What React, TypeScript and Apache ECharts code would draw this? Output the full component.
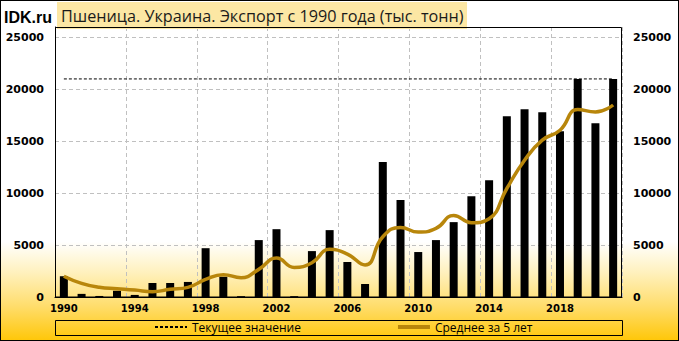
import React, { useEffect, useRef } from "react";
import * as echarts from "echarts";

const years = [
  "1990", "1991", "1992", "1993", "1994", "1995", "1996", "1997", "1998", "1999",
  "2000", "2001", "2002", "2003", "2004", "2005", "2006", "2007", "2008", "2009",
  "2010", "2011", "2012", "2013", "2014", "2015", "2016", "2017", "2018", "2019",
  "2020", "2021",
];
const exportsK = [
  2000, 300, 100, 600, 200, 1350, 1350, 1450, 4700, 1950,
  80, 5480, 6530, 80, 4420, 6440, 3370, 1250, 13000, 9330,
  4330, 5480, 7210, 9710, 11250, 17400, 18080, 17790, 15960, 21000,
  16730, 21000,
];
const avg5 = [
  2000, 1310, 930, 800, 670, 510, 740, 930, 1700, 2150,
  1860, 2660, 3750, 2850, 3300, 4590, 4130, 3080, 5800, 6700,
  6250, 6600, 7850, 7150, 7530, 10450, 13170, 15100, 16060, 18050,
  17820, 18490,
];
const currentValue = 21000;
const yMax = 26000;
const yInterval = 5000;

const titleText = "Пшеница. Украина. Экспорт с 1990 года (тыс. тонн)";
const legendCurrent = "Текущее значение";
const legendAvg = "Среднее за 5 лет";

export default function App() {
  const ref = useRef<HTMLDivElement>(null);
  useEffect(() => {
    if (!ref.current) return;
    const chart = echarts.init(ref.current, null, { renderer: "svg" });
    const tickFont = { fontFamily: "DejaVu Sans", fontWeight: "bold" as const, color: "#000" };
    const plain = (v: number) => String(v);
    chart.setOption({
      animation: false,
      grid: { left: 55, right: 57, top: 27, bottom: 44, containLabel: false },
      legend: {
        data: [
          { name: legendCurrent },
          { name: legendAvg, lineStyle: { width: 4 } },
        ],
        left: 154,
        top: 321,
        itemWidth: 32,
        itemHeight: 12,
        itemGap: 95,
        padding: 0,
        itemStyle: { opacity: 0 },
        textStyle: { fontFamily: "Open Sans", fontSize: 12, color: "#000" },
      },
      xAxis: {
        type: "category",
        data: years,
        boundaryGap: true,
        axisLine: { show: true, lineStyle: { color: "#000", width: 1 } },
        axisTick: { show: false, interval: 3 },
        axisLabel: { ...tickFont, fontSize: 10, interval: 3, margin: 6 },
        splitLine: { show: true, interval: 3, lineStyle: { color: "#C0C0C0", type: [4, 3], width: 1 } },
      },
      yAxis: [
        {
          type: "value",
          min: 0,
          max: yMax,
          interval: yInterval,
          axisLine: { show: true, lineStyle: { color: "#000" } },
          axisTick: { show: false },
          axisLabel: { ...tickFont, fontSize: 11, margin: 11, showMaxLabel: false, formatter: plain },
          splitLine: { show: true, lineStyle: { color: "#C0C0C0", type: [4, 3], width: 1 } },
        },
        {
          type: "value",
          min: 0,
          max: yMax,
          interval: yInterval,
          position: "right",
          axisLine: { show: false },
          axisTick: { show: false },
          axisLabel: { ...tickFont, fontSize: 11, margin: 11, showMaxLabel: false, formatter: plain },
          splitLine: { show: false },
        },
      ],
      series: [
        {
          name: "Экспорт",
          type: "bar",
          data: exportsK,
          barWidth: 8,
          itemStyle: { color: "#000" },
          z: 2,
        },
        {
          name: legendCurrent,
          type: "line",
          data: years.map(() => currentValue),
          symbol: "none",
          lineStyle: { color: "#000", width: 1, type: [3, 2] },
          itemStyle: { color: "#000" },
          z: 3,
        },
        {
          name: legendAvg,
          type: "line",
          data: avg5,
          smooth: 0.5,
          symbol: "none",
          lineStyle: { color: "#B8860B", width: 3.5 },
          itemStyle: { color: "#B8860B" },
          z: 4,
        },
      ],
      graphic: [
        {
          type: "rect",
          shape: { x: 57, y: 2, width: 410, height: 27 },
          style: { fill: "#FCE7A4" },
          z: 1,
        },
        {
          type: "text",
          x: 61,
          y: 16,
          style: {
            text: titleText,
            font: '16.2px "Open Sans"',
            fill: "#1a1a1a",
            verticalAlign: "middle",
          },
          z: 2,
        },
        {
          type: "text",
          x: 4,
          y: 17,
          style: {
            text: "IDK.ru",
            font: 'bold 16px "Liberation Sans"',
            fill: "#000",
            verticalAlign: "middle",
          },
        },
        {
          type: "rect",
          shape: { x: 55.5, y: 320.5, width: 567, height: 15 },
          style: { fill: "none", stroke: "#000", lineWidth: 1 },
        },
        {
          type: "rect",
          shape: { x: 55.5, y: 27.5, width: 566, height: 269.5 },
          style: { fill: "none", stroke: "#000", lineWidth: 1 },
          z: 100,
        },
      ],
    });
    return () => chart.dispose();
  }, []);
  return (
    <div
      style={{
        position: "fixed",
        left: 0,
        top: 0,
        width: 679,
        height: 341,
        boxSizing: "border-box",
        border: "1px solid #000",
        background:
          "linear-gradient(to bottom, #ffffff 0%, #ffffff 71%, #FFF1BE 80%, #FFDD6C 90%, #FFC70A 100%)",
      }}
    >
      <div ref={ref} style={{ position: "absolute", left: -1, top: -1, width: 679, height: 341 }} />
    </div>
  );
}
